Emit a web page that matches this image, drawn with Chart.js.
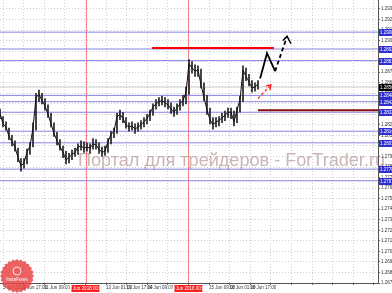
<!DOCTYPE html>
<html>
<head>
<meta charset="utf-8">
<script src="https://cdn.jsdelivr.net/npm/chart.js@4"></script>
<style>
  html, body { margin: 0; padding: 0; background: #fff; }
</style>
</head>
<body>
<canvas id="chart" width="392" height="293"></canvas>
<script>
// Close prices, one per bar
const closes = [
  1.2831, 1.2821, 1.2818, 1.2809, 1.2804, 1.2799, 1.2789, 1.2781, 1.2784, 1.2794,
  1.2800, 1.2817, 1.2846, 1.2849, 1.2843, 1.2838, 1.2830, 1.2821, 1.2812, 1.2805,
  1.2799, 1.2794, 1.2787, 1.2789, 1.2792, 1.2794, 1.2799, 1.2800, 1.2798, 1.2799,
  1.2798, 1.2802, 1.2801, 1.2797, 1.2794, 1.2795, 1.2804, 1.2811, 1.2814, 1.2828,
  1.2830, 1.2826, 1.2820, 1.2818, 1.2819, 1.2816, 1.2818, 1.2820, 1.2823, 1.2826,
  1.2831, 1.2837, 1.2840, 1.2842, 1.2843, 1.2841, 1.2839, 1.2835, 1.2832, 1.2836,
  1.2840, 1.2843, 1.2851, 1.2878, 1.2874, 1.2871, 1.2872, 1.2858, 1.2846, 1.2834,
  1.2825, 1.2820, 1.2823, 1.2824, 1.2827, 1.2829, 1.2832, 1.2832, 1.2823, 1.2834,
  1.2844, 1.2872, 1.2866, 1.2861, 1.2855, 1.2856, 1.2859
];
const highs = [
  1.2835, 1.2828, 1.2823, 1.2817, 1.2810, 1.2805, 1.2798, 1.2788, 1.2788, 1.2797,
  1.2803, 1.2822, 1.2850, 1.2853, 1.2850, 1.2845, 1.2839, 1.2831, 1.2822, 1.2813,
  1.2806, 1.2800, 1.2795, 1.2793, 1.2796, 1.2798, 1.2802, 1.2805, 1.2804, 1.2803,
  1.2802, 1.2807, 1.2806, 1.2803, 1.2799, 1.2800, 1.2807, 1.2814, 1.2817, 1.2831,
  1.2834, 1.2832, 1.2827, 1.2822, 1.2823, 1.2821, 1.2822, 1.2824, 1.2827, 1.2830,
  1.2834, 1.2840, 1.2844, 1.2846, 1.2847, 1.2846, 1.2844, 1.2841, 1.2837, 1.2840,
  1.2844, 1.2848, 1.2856, 1.2882, 1.2880, 1.2877, 1.2876, 1.2873, 1.2860, 1.2848,
  1.2836, 1.2827, 1.2827, 1.2828, 1.2831, 1.2833, 1.2836, 1.2836, 1.2833, 1.2837,
  1.2847, 1.2876, 1.2874, 1.2868, 1.2862, 1.2860, 1.2862
];
const lows = [
  1.2826, 1.2818, 1.2815, 1.2806, 1.2800, 1.2795, 1.2785, 1.2776, 1.2779, 1.2783,
  1.2792, 1.2799, 1.2815, 1.2842, 1.2840, 1.2834, 1.2827, 1.2818, 1.2809, 1.2801,
  1.2796, 1.2789, 1.2783, 1.2784, 1.2787, 1.2790, 1.2792, 1.2796, 1.2794, 1.2795,
  1.2793, 1.2797, 1.2797, 1.2793, 1.2790, 1.2791, 1.2794, 1.2802, 1.2808, 1.2812,
  1.2825, 1.2822, 1.2817, 1.2814, 1.2815, 1.2812, 1.2814, 1.2816, 1.2818, 1.2821,
  1.2824, 1.2829, 1.2835, 1.2838, 1.2839, 1.2837, 1.2835, 1.2831, 1.2828, 1.2830,
  1.2834, 1.2838, 1.2840, 1.2849, 1.2869, 1.2866, 1.2866, 1.2855, 1.2843, 1.2830,
  1.2821, 1.2816, 1.2818, 1.2819, 1.2822, 1.2824, 1.2827, 1.2826, 1.2819, 1.2822,
  1.2832, 1.2842, 1.2862, 1.2857, 1.2851, 1.2852, 1.2854
];

// Support / resistance levels (blue lines, boxed on the price axis)
const levels = [1.2908, 1.2892, 1.2881, 1.2848, 1.2842, 1.2832, 1.2814, 1.2803, 1.2778, 1.2767];
const bid = 1.2856;

// Drawn annotations (bar index, price)
const resistance = [{ x: 50.7, y: 1.2893 }, { x: 91.3, y: 1.2893 }];
const support = [{ x: 86, y: 1.2834 }, { x: 126, y: 1.2834 }];
const forecastSolid = [{ x: 86.7, y: 1.2864 }, { x: 89, y: 1.2888 }, { x: 91.7, y: 1.2871 }];
const forecastDash = [{ x: 91.7, y: 1.2871 }, { x: 95.7, y: 1.2904 }];
const forecastHead = [{ x: 94.3, y: 1.2900 }, { x: 95.7, y: 1.2904 }, { x: 97, y: 1.2897 }];
const altArrow = [{ x: 86, y: 1.2845 }, { x: 90.3, y: 1.2858 }];
const altHead = [{ x: 88.6, y: 1.2857 }, { x: 90.3, y: 1.2858 }, { x: 90, y: 1.2853 }];

// Day separators and time axis
const dayBreaks = [28.5, 62.8];
const dayBreakLabels = ['12 Jun 2018 00:00', '14 Jun 2018 00:00'];
const timeLabels = [
  '5 Jun 2018', '8 Jun 17:00', '11 Jun 09:00', '', '', '13 Jun 01:00', '13 Jun 17:00',
  '14 Jun 09:00', '', '', '15 Jun 09:00', '18 Jun 01:00', '18 Jun 17:00'
];
const priceTop = 1.2930;
const priceBottom = 1.2670;

const levelColor = '#8585e6';
const chartCanvas = document.getElementById('chart');

function lineSet(data, color, width, dash) {
  return {
    type: 'line',
    data: data,
    borderColor: color,
    borderWidth: width,
    borderDash: dash || [],
    pointRadius: 0,
    tension: 0,
    fill: false
  };
}

// listed bottom to top; reversed below because Chart.js paints the first dataset last
const datasets = [];
levels.forEach(v => datasets.push(lineSet([{ x: 0, y: v }, { x: 126, y: v }], levelColor, 1)));
datasets.push(lineSet([{ x: 0, y: bid }, { x: 126, y: bid }], '#c4c4c4', 1));
datasets.push(lineSet(support, '#8a0c0c', 2));
datasets.push(lineSet(resistance, '#ff0000', 2));
datasets.push({
  type: 'bar',
  data: highs.map((h, i) => ({ x: i, y: [lows[i], h] })),
  backgroundColor: '#222',
  barThickness: 1,
  borderWidth: 0
});
datasets.push(lineSet(closes.map((v, i) => ({ x: i, y: v })), '#111', 1));
datasets.push(lineSet(forecastSolid, '#000', 1.8));
datasets.push(lineSet(forecastDash, '#000', 1.8, [4, 3]));
datasets.push(lineSet(forecastHead, '#000', 1.5));
datasets.push(lineSet(altArrow, '#ff2a2a', 1.3, [3, 2]));
datasets.push(lineSet(altHead, '#ff2a2a', 1.3));
datasets.reverse();

// Extra drawing: watermark, day separators, axis boxes, logo
const decorations = {
  id: 'decorations',
  beforeDatasetsDraw(chart) {
    const { ctx, chartArea, scales } = chart;
    ctx.save();
    // day separators
    ctx.strokeStyle = 'rgba(255,80,80,0.7)';
    ctx.lineWidth = 1;
    dayBreaks.forEach(d => {
      const x = Math.round(scales.x.getPixelForValue(d)) + 0.5;
      ctx.beginPath();
      ctx.moveTo(x, chartArea.top);
      ctx.lineTo(x, chartArea.bottom);
      ctx.stroke();
    });
    // watermark
    const text = 'Портал для трейдеров - ForTrader.ru';
    ctx.font = '20px "Liberation Sans", Arial, sans-serif';
    const w = ctx.measureText(text).width;
    const size = 20 * 307 / w;
    ctx.font = size.toFixed(2) + 'px "Liberation Sans", Arial, sans-serif';
    ctx.fillStyle = 'rgba(160,120,120,0.55)';
    ctx.textBaseline = 'alphabetic';
    ctx.textAlign = 'left';
    ctx.fillText(text, 78, 166);
    ctx.restore();
  },
  afterDraw(chart) {
    const { ctx, chartArea, scales } = chart;
    ctx.save();
    ctx.font = '4.5px "Liberation Sans", Arial, sans-serif';
    ctx.textBaseline = 'middle';
    ctx.textAlign = 'left';
    // price boxes
    const box = (v, color) => {
      const y = Math.round(scales.y.getPixelForValue(v));
      ctx.fillStyle = color;
      ctx.fillRect(chartArea.right + 1, y - 3, 14, 7);
      ctx.fillStyle = '#fff';
      ctx.fillText(v.toFixed(4), chartArea.right + 2, y + 0.5);
    };
    levels.forEach(v => box(v, '#2f2fd2'));
    box(bid, '#000');
    // day separator labels
    ctx.textAlign = 'center';
    dayBreaks.forEach((d, i) => {
      const x = scales.x.getPixelForValue(d);
      ctx.fillStyle = '#ff2020';
      ctx.fillRect(x - 14, chartArea.bottom + 2, 28, 7);
      ctx.fillStyle = '#fff';
      ctx.fillText(dayBreakLabels[i], x, chartArea.bottom + 5.5);
    });
    // logo badge
    const cx = 17, cy = 276;
    ctx.beginPath();
    for (let k = 0; k < 48; k++) {
      const a = k * Math.PI / 24;
      const r = k % 2 ? 15.5 : 17;
      ctx.lineTo(cx + r * Math.cos(a), cy + r * Math.sin(a));
    }
    ctx.closePath();
    ctx.fillStyle = 'rgba(230,70,70,0.85)';
    ctx.fill();
    ctx.strokeStyle = '#fff';
    ctx.lineWidth = 0.8;
    ctx.beginPath();
    ctx.arc(cx, cy - 5, 4, 0, Math.PI * 2);
    ctx.stroke();
    ctx.fillStyle = '#fff';
    ctx.font = '4.5px "Liberation Sans", Arial, sans-serif';
    ctx.fillText('InstaForex', cx, cy + 4);
    ctx.restore();
  }
};

new Chart(chartCanvas, {
  type: 'line',
  data: { datasets: datasets },
  options: {
    responsive: false,
    animation: false,
    devicePixelRatio: 1,
    layout: { padding: 0 },
    plugins: { legend: { display: false }, tooltip: { enabled: false } },
    scales: {
      x: {
        type: 'linear',
        min: 0,
        max: 126,
        offset: false,
        afterBuildTicks: s => {
          const ticks = [];
          for (let k = 0; k < 19; k++) ticks.push({ value: 1 + k * 20.6 / 3 });
          s.ticks = ticks;
        },
        afterFit: s => { s.height = 10; s.paddingLeft = 0; s.paddingRight = 0; },
        ticks: {
          autoSkip: false,
          maxRotation: 0,
          align: 'start',
          padding: 0,
          color: '#333',
          font: { size: 4.5, family: '"Liberation Sans", Arial, sans-serif' },
          callback: (v, i) => timeLabels[i] || ''
        },
        grid: { color: '#cdcdcd', tickLength: 2, tickColor: '#666', offset: false },
        border: { color: '#555', dash: [1, 2] }
      },
      y: {
        type: 'linear',
        position: 'right',
        min: priceBottom,
        max: 1.29385,
        afterBuildTicks: s => {
          const ticks = [];
          for (let k = 0; k <= 26; k++) ticks.push({ value: Math.round((priceTop - k * 0.001) * 10000) / 10000 });
          s.ticks = ticks;
        },
        afterFit: s => { s.width = 14; s.paddingTop = 0; s.paddingBottom = 0; },
        ticks: {
          padding: 1,
          color: '#333',
          font: { size: 4.5, family: '"Liberation Sans", Arial, sans-serif' },
          callback: v => v.toFixed(4)
        },
        grid: { color: '#cdcdcd', tickLength: 2, tickColor: '#666' },
        border: { color: '#555', dash: [1, 2] }
      }
    }
  },
  plugins: [decorations]
});
</script>
</body>
</html>
